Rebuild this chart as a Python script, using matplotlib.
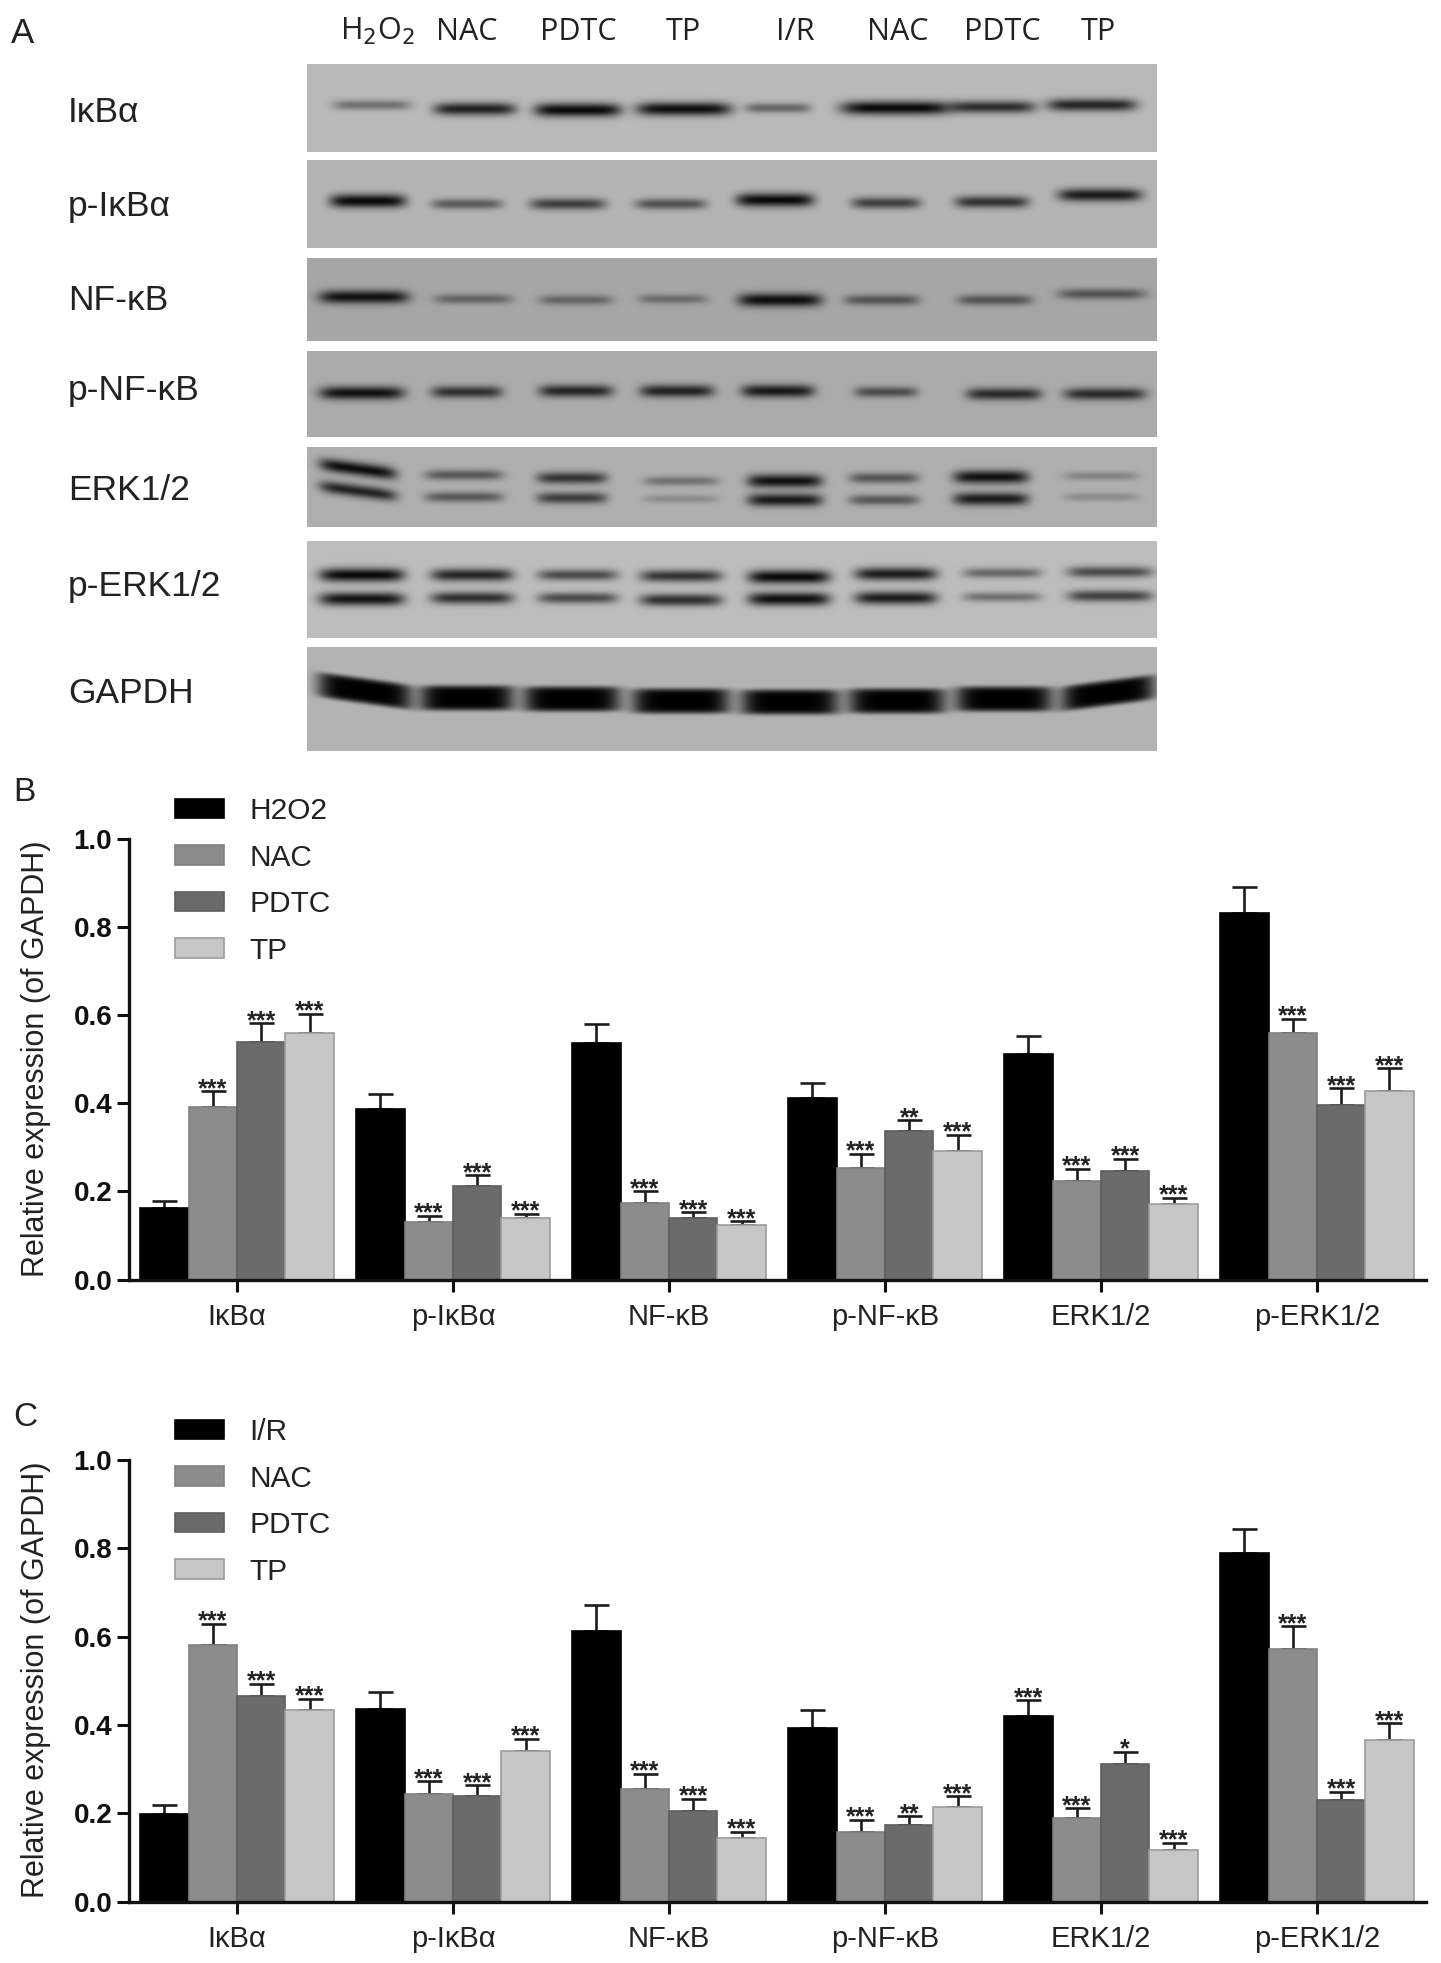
import numpy as np
import matplotlib
matplotlib.use("Agg")
import matplotlib.pyplot as plt

plt.rcParams['font.family'] = ['Liberation Sans', 'DejaVu Sans']

W, H = 1441, 1963

categories = ["IκBα", "p-IκBα", "NF-κB", "p-NF-κB", "ERK1/2", "p-ERK1/2"]
yticks = [0.0, 0.2, 0.4, 0.6, 0.8, 1.0]
ylabel = "Relative expression (of GAPDH)"

# panel B, bar height and top of the error bar
b_names = ["H2O2", "NAC", "PDTC", "TP"]
b_h2o2 = [0.162, 0.388, 0.537, 0.412, 0.512, 0.831]
b_h2o2_top = [0.178, 0.422, 0.580, 0.445, 0.552, 0.890]
b_nac = [0.392, 0.131, 0.174, 0.254, 0.223, 0.560]
b_nac_top = [0.427, 0.145, 0.200, 0.285, 0.251, 0.592]
b_pdtc = [0.539, 0.212, 0.139, 0.336, 0.247, 0.396]
b_pdtc_top = [0.581, 0.236, 0.153, 0.362, 0.274, 0.434]
b_tp = [0.560, 0.139, 0.124, 0.292, 0.171, 0.428]
b_tp_top = [0.603, 0.149, 0.132, 0.329, 0.186, 0.479]
b_stars = [["", "", "", "", "", ""],
           ["***", "***", "***", "***", "***", "***"],
           ["***", "***", "***", "**", "***", "***"],
           ["***", "***", "***", "***", "***", "***"]]

# panel C
c_names = ["I/R", "NAC", "PDTC", "TP"]
c_ir = [0.198, 0.435, 0.613, 0.394, 0.420, 0.790]
c_ir_top = [0.218, 0.475, 0.671, 0.433, 0.456, 0.844]
c_nac = [0.581, 0.244, 0.254, 0.157, 0.188, 0.573]
c_nac_top = [0.629, 0.272, 0.289, 0.185, 0.211, 0.624]
c_pdtc = [0.465, 0.239, 0.206, 0.173, 0.311, 0.229]
c_pdtc_top = [0.493, 0.263, 0.233, 0.193, 0.339, 0.249]
c_tp = [0.433, 0.342, 0.143, 0.215, 0.116, 0.366]
c_tp_top = [0.459, 0.369, 0.158, 0.239, 0.133, 0.404]
c_stars = [["", "", "", "", "***", ""],
           ["***", "***", "***", "***", "***", "***"],
           ["***", "***", "***", "**", "*", "***"],
           ["***", "***", "***", "***", "***", "***"]]

# panel A, band darkness per lane
lane_names = ["H$_2$O$_2$", "NAC", "PDTC", "TP", "I/R", "NAC", "PDTC", "TP"]
blot_names = ["IκBα", "p-IκBα", "NF-κB", "p-NF-κB", "ERK1/2", "p-ERK1/2", "GAPDH"]
ikba_dark = [0.40, 0.82, 0.95, 0.92, 0.45, 0.95, 0.75, 0.80]
pikba_dark = [0.95, 0.50, 0.65, 0.55, 0.95, 0.65, 0.72, 0.85]
nfkb_dark = [0.90, 0.40, 0.40, 0.35, 0.92, 0.50, 0.50, 0.50]
pnfkb_dark = [0.90, 0.72, 0.78, 0.80, 0.85, 0.55, 0.75, 0.75]
erk_up_dark = [0.92, 0.50, 0.70, 0.35, 0.90, 0.52, 0.90, 0.25]
erk_lo_dark = [0.80, 0.50, 0.65, 0.20, 0.85, 0.50, 0.85, 0.20]
perk_up_dark = [0.95, 0.80, 0.60, 0.72, 0.95, 0.85, 0.45, 0.60]
perk_lo_dark = [0.90, 0.75, 0.60, 0.75, 0.92, 0.85, 0.40, 0.65]
gapdh_dark = [1.0, 1.0, 1.0, 1.0, 1.0, 1.0, 1.0, 1.0]

bar_colors = ["#000000", "#8c8c8c", "#6b6b6b", "#c6c6c6"]
edge_colors = ["#000000", "#808080", "#5e5e5e", "#9c9c9c"]

# layout of the blots, in reference pixels: top, bottom, grey, then bands
blots = [
    (64, 152, 0.725, [(ikba_dark, [105, 109, 110, 109, 108, 108, 107, 105],
                       [372, 475, 578, 684, 778, 896, 992, 1092], [78, 82, 87, 95, 66, 110, 87, 90], None)]),
    (160, 248, 0.705, [(pikba_dark, [201, 204, 204, 204, 200, 203, 202, 195],
                        [368, 467, 568, 671, 775, 886, 992, 1100], [76, 71, 76, 71, 78, 69, 74, 84], None)]),
    (258, 341, 0.65, [(nfkb_dark, [297, 299, 300, 299, 300, 300, 300, 294],
                       [364, 473, 576, 673, 780, 882, 995, 1102], [90, 78, 74, 69, 84, 75, 75, 88], None)]),
    (351, 437, 0.67, [(pnfkb_dark, [393, 392, 391, 391, 391, 392, 394, 394],
                       [362, 467, 576, 677, 778, 886, 1004, 1105], [85, 71, 74, 74, 73, 63, 75, 82], None)]),
    (447, 527, 0.685, [(erk_up_dark, [469, 475, 478, 481, 481, 478, 477, 476],
                        [358, 464, 572, 681, 785, 884, 991, 1101], [77, 78, 70, 75, 75, 70, 75, 75],
                        [0.13, 0, 0, 0, 0, 0, 0, 0]),
                       (erk_lo_dark, [491, 497, 498, 499, 500, 500, 499, 497],
                        [358, 464, 572, 681, 785, 884, 991, 1101], [77, 78, 70, 75, 75, 70, 75, 75],
                        [0.13, 0, 0, 0, 0, 0, 0, 0])]),
    (541, 638, 0.74, [(perk_up_dark, [575, 575, 575, 576, 577, 574, 573, 572],
                       [362, 472, 578, 681, 789, 896, 1002, 1110], [85, 82, 80, 82, 82, 82, 78, 85], None),
                      (perk_lo_dark, [599, 598, 598, 600, 599, 598, 597, 596],
                       [362, 472, 578, 681, 789, 896, 1002, 1110], [85, 82, 80, 82, 82, 82, 78, 85], None)]),
    (647, 751, 0.70, [(gapdh_dark, [691, 698, 699, 701, 702, 701, 699, 693],
                       [365, 467, 572, 681, 790, 897, 1004, 1108], [94, 94, 97, 98, 98, 97, 97, 94],
                       [0.14, 0, 0, 0, 0, 0, 0, -0.13])]),
]
blot_left, blot_right = 307, 1157
gapdh_top = 647


def blot_image(top, bottom, grey, bands):
    xx, yy = np.meshgrid(np.arange(blot_left, blot_right) + 0.5, np.arange(top, bottom) + 0.5)
    img = np.ones(xx.shape)
    for dark, ys, xs, ws, tilt in bands:
        for i in range(len(dark)):
            t = 0 if tilt is None else tilt[i]
            thick = 25 if top == gapdh_top else 7 + 7 * dark[i]
            power = 6 if top == gapdh_top else 2
            yc = ys[i] + t * (xx - xs[i])
            g = np.exp(-((xx - xs[i]) / (ws[i] / 2)) ** 6) * np.exp(-(np.abs(yy - yc) / (thick / 2)) ** power)
            img = img * (1 - 1.0 * dark[i] * g)
    return grey * img


def draw_panel(ax, names, series, tops, stars):
    w = 0.224
    x = np.arange(len(categories))
    for i in range(4):
        pos = x + (i - 1.5) * w
        ax.bar(pos, series[i], w, color=bar_colors[i], edgecolor=edge_colors[i], linewidth=1.2, label=names[i], zorder=2)
        low = np.zeros(len(x))
        up = np.array(tops[i]) - np.array(series[i])
        ax.errorbar(pos, series[i], yerr=[low, up], fmt='none', ecolor="#1c1c1c", elinewidth=1.9,
                    capsize=9, capthick=1.9, zorder=1)
        for j in range(len(x)):
            if stars[i][j]:
                ax.annotate(stars[i][j], (pos[j], tops[i][j]), xytext=(0, -3.5), textcoords='offset points',
                            ha='center', va='baseline', fontsize=18, fontweight='bold', color="#222222")
    ax.set_xlim(-0.5, 5.505)
    ax.set_ylim(0, 1)
    ax.set_xticks(x)
    ax.set_xticklabels(categories, fontsize=21, color="#222222")
    ax.set_yticks(yticks)
    ax.set_yticklabels(["%.1f" % v for v in yticks], fontsize=20, fontweight='bold', color="#111111")
    ax.tick_params(axis='both', length=8.6, width=2.2, color="#111111")
    ax.tick_params(axis='x', pad=8)
    ax.tick_params(axis='y', pad=3.5)
    for s in ['top', 'right']:
        ax.spines[s].set_visible(False)
    for s in ['left', 'bottom']:
        ax.spines[s].set_linewidth(2.4)
        ax.spines[s].set_color("#111111")
    ax.patch.set_alpha(0)


def axes_rect(left, top, right, bottom):
    return [left / W, 1 - bottom / H, (right - left) / W, (bottom - top) / H]


fig = plt.figure(figsize=(W / 100, H / 100), dpi=100)

# base layer in reference pixels, holds panel A and the panel letters
base = fig.add_axes([0, 0, 1, 1])
for top, bottom, grey, bands in blots:
    base.imshow(blot_image(top, bottom, grey, bands), cmap='gray', vmin=0, vmax=1, aspect='auto',
                extent=(blot_left, blot_right, bottom, top), interpolation='bilinear')
base.set_xlim(0, W)
base.set_ylim(H, 0)
base.axis('off')

base.text(11, 43, "A", fontsize=25, va='baseline', color="#222222")
base.text(13, 801, "B", fontsize=24, va='baseline', color="#222222")
base.text(13, 1426, "C", fontsize=24, va='baseline', color="#222222")

lane_label_x = [377, 467, 578, 683, 795, 898, 1002, 1098]
for name, lx in zip(lane_names, lane_label_x):
    base.text(lx, 40, name, fontsize=22, ha='center', va='baseline', family=['Open Sans', 'DejaVu Sans'], color="#222222")

blot_label_y = [122, 216, 310, 400, 500, 596, 703]
for name, ly in zip(blot_names, blot_label_y):
    base.text(68, ly, name, fontsize=25.5, va='baseline', color="#222222")

ax_b = fig.add_axes(axes_rect(129, 838.8, 1426, 1279.5))
draw_panel(ax_b, b_names, [b_h2o2, b_nac, b_pdtc, b_tp], [b_h2o2_top, b_nac_top, b_pdtc_top, b_tp_top], b_stars)
ax_c = fig.add_axes(axes_rect(129, 1460, 1426, 1901.5))
draw_panel(ax_c, c_names, [c_ir, c_nac, c_pdtc, c_tp], [c_ir_top, c_nac_top, c_pdtc_top, c_tp_top], c_stars)

for ax, legend_top, label_y in [(ax_b, 797, 1059), (ax_c, 1418, 1680)]:
    ax.legend(loc='upper left', bbox_to_anchor=(175, legend_top), bbox_transform=base.transData,
              frameon=False, fontsize=21.5, handlelength=1.64, handleheight=0.62, handletextpad=0.84,
              labelspacing=0.62, borderpad=0, borderaxespad=0, labelcolor="#222222")
    fig.text(36 / W, 1 - label_y / H, ylabel, fontsize=22, rotation=90, ha='center', va='center', color="#222222")

fig.savefig("out.png", dpi=100)
